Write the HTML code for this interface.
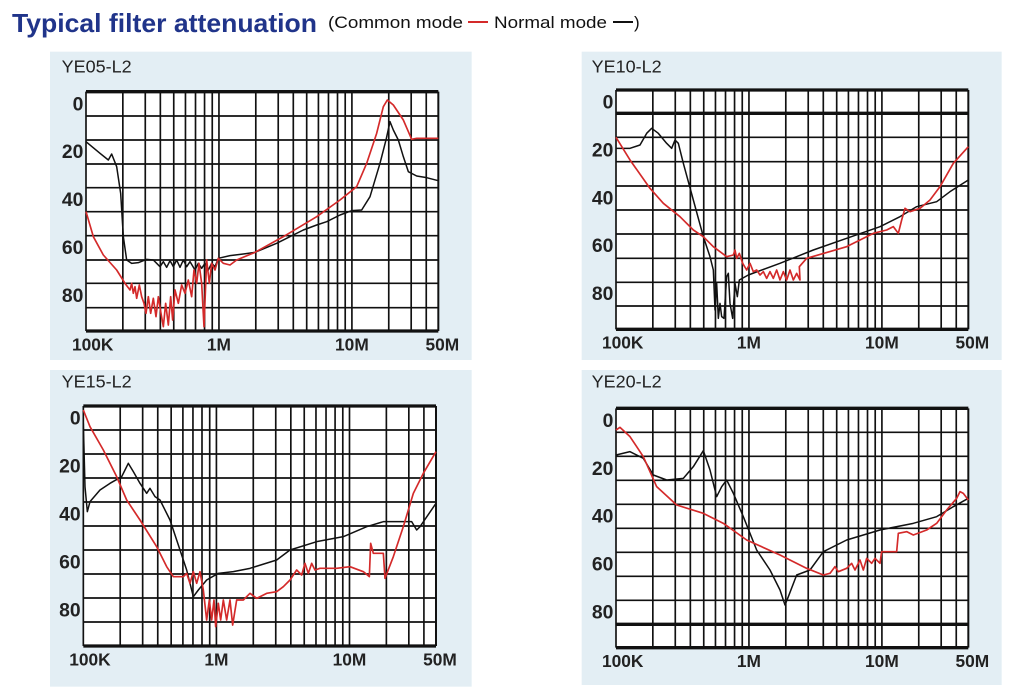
<!DOCTYPE html>
<html><head><meta charset="utf-8">
<style>
html,body{margin:0;padding:0;background:#fff;}
body{width:1017px;height:688px;position:relative;overflow:hidden;font-family:"Liberation Sans",sans-serif;}
svg{position:absolute;left:0;top:0;}
</style></head><body>
<svg id="s" width="1017" height="688" viewBox="0 0 1017 688">
<text x="12" y="32" font-family="Liberation Sans" font-weight="bold" font-size="26" fill="#20348a" textLength="305" lengthAdjust="spacingAndGlyphs">Typical filter attenuation</text>
<text x="328" y="28" font-family="Liberation Sans" font-size="17" fill="#111" textLength="135" lengthAdjust="spacingAndGlyphs">(Common mode</text>
<line x1="468" y1="22" x2="488" y2="22" stroke="#d42a2a" stroke-width="2"/>
<text x="494" y="28" font-family="Liberation Sans" font-size="17" fill="#111" textLength="113" lengthAdjust="spacingAndGlyphs">Normal mode</text>
<line x1="613" y1="22" x2="633" y2="22" stroke="#111" stroke-width="2"/>
<text x="634" y="28" font-family="Liberation Sans" font-size="17" fill="#111">)</text>
</svg>
<script>
var NS="http://www.w3.org/2000/svg",S=document.getElementById('s');
function el(p,t,a,txt){var e=document.createElementNS(NS,t);for(var k in a)e.setAttribute(k,a[k]);if(txt)e.textContent=txt;p.appendChild(e);return e;}
var panels=[
 {ox:50,oy:50,bg:[0,5,1265,930],x0:108,x1:1165,ys:[125,198,270,342,413,485,557,630,700,773,843],thick:[],lab:'YE05-L2',
  k:[[108,275],[150,310],[175,330],[185,312],[200,350],[212,430],[220,560],[230,630],[245,640],[265,638],[290,628],[310,630],[330,650],[340,635],[350,652],[360,632],[370,650],[380,630],[390,652],[400,630],[410,650],[420,635],[435,660],[445,640],[455,655],[465,640],[475,660],[485,640],[495,650],[505,625],[540,617],[580,612],[615,607],[680,580],[760,540],[800,525],[830,515],[870,495],[905,482],[935,480],[960,440],[990,340],[1008,270],[1020,215],[1030,240],[1045,270],[1060,320],[1075,365],[1100,378],[1130,383],[1165,392]],
  r:[[108,485],[130,560],[160,615],[200,660],[225,700],[240,720],[245,700],[250,730],[255,710],[260,745],[268,705],[275,740],[282,760],[288,790],[295,740],[302,790],[310,745],[318,800],[325,740],[333,790],[340,830],[347,760],[355,825],[362,740],[368,810],[375,720],[385,760],[395,705],[405,730],[415,690],[425,740],[432,660],[440,700],[447,640],[455,700],[462,830],[470,630],[478,700],[485,640],[495,660],[505,625],[520,640],[540,645],[560,630],[615,607],[700,560],[800,500],[870,450],[920,410],[950,340],[980,250],[1000,170],[1012,150],[1030,165],[1060,210],[1085,268],[1100,265],[1165,265]]},
 {ox:580,oy:50,bg:[5,5,1265,930],x0:108,x1:1165,ys:[120,190,262,335,408,480,552,625,697,768,838],thick:[190],lab:'YE10-L2',
  k:[[108,295],[150,295],[180,285],[200,250],[215,235],[235,250],[260,280],[275,295],[285,270],[295,280],[310,340],[340,450],[370,560],[390,620],[400,660],[405,780],[410,700],[415,805],[420,760],[425,800],[432,805],[440,680],[445,670],[450,760],[458,805],[465,700],[472,740],[478,690],[505,675],[600,640],[700,600],[800,565],[900,530],[960,500],[1010,470],[1070,455],[1110,425],[1165,390]],
  r:[[108,262],[150,330],[210,415],[250,460],[300,500],[340,540],[370,560],[400,590],[440,620],[460,615],[465,600],[470,625],[478,610],[488,640],[500,660],[510,640],[520,665],[530,660],[540,675],[550,665],[560,685],[570,665],[580,685],[590,660],[600,690],[610,665],[620,690],[630,660],[640,690],[650,670],[660,690],[658,650],[680,625],[800,590],[880,550],[920,540],[940,530],[955,550],[965,510],[975,475],[990,485],[1020,475],[1050,450],[1080,410],[1120,340],[1165,290]]},
 {ox:50,oy:370,bg:[0,0,1265,950],x0:100,x1:1158,ys:[108,180,252,324,396,468,540,612,684,756,828],thick:[108],lab:'YE15-L2',
  k:[[100,160],[105,350],[112,425],[120,395],[150,360],[180,340],[215,320],[225,300],[235,280],[250,305],[270,340],[290,370],[300,355],[315,380],[330,390],[360,450],[390,540],[410,600],[430,680],[445,660],[470,630],[505,610],[550,605],[600,595],[680,570],[720,540],[800,515],[880,500],[950,470],[1000,455],[1085,455],[1100,480],[1110,470],[1158,400]],
  r:[[100,120],[120,170],[160,240],[200,320],[230,390],[270,450],[320,530],[350,590],[370,620],[400,620],[410,610],[420,640],[430,605],[440,640],[450,605],[460,660],[470,750],[478,690],[485,750],[492,690],[497,770],[505,700],[512,750],[520,690],[530,750],[540,690],[548,765],[560,690],[580,690],[600,670],[620,685],[650,670],[680,665],[700,650],[720,630],[740,600],[755,615],[765,580],[775,610],[785,580],[795,600],[810,595],[860,595],[900,590],[940,605],[958,620],[962,520],[970,550],[1000,550],[1005,625],[1030,560],[1060,470],[1090,370],[1120,310],[1158,245]]},
 {ox:580,oy:370,bg:[5,0,1265,945],x0:108,x1:1165,ys:[115,187,259,331,403,475,547,619,691,763,833],thick:[115,763],lab:'YE20-L2',
  k:[[108,255],[150,245],[190,265],[220,315],[260,330],[310,325],[340,290],[370,242],[390,300],[410,380],[425,350],[440,330],[460,370],[490,440],[530,540],[570,600],[600,660],[615,705],[625,680],[650,615],[690,600],[730,545],[800,510],[900,480],[1000,460],[1070,440],[1120,410],[1165,385]],
  r:[[108,180],[120,172],[150,200],[190,260],[230,350],[290,405],[370,430],[430,460],[500,510],[600,555],[680,595],[730,615],[750,610],[765,590],[775,605],[800,595],[815,580],[825,600],[840,570],[850,600],[860,565],[875,580],[885,565],[900,580],[905,545],[950,545],[955,490],[980,485],[1000,495],[1040,480],[1070,460],[1100,420],[1130,385],[1140,365],[1150,370],[1165,390]]}
];
var offs=[0,110,177,222,262,297,327,354,377];
panels.forEach(function(p){
 var g=el(S,'g',{transform:'translate('+p.ox+','+p.oy+') scale(0.33333)'});
 el(g,'rect',{x:p.bg[0],y:p.bg[1],width:p.bg[2]-p.bg[0],height:p.bg[3]-p.bg[1],fill:'#e3eef4'});
 var yt=p.ys[0],yb=p.ys[p.ys.length-1],x0=p.x0,x1=p.x1,dw=(x1-x0)/2.65;
 el(g,'rect',{x:x0,y:yt,width:x1-x0,height:yb-yt,fill:'#fff'});
 for(var d=0;d<3;d++){offs.forEach(function(o){var x=x0+d*dw+o*dw/397;if(x<=x1+1)el(g,'line',{x1:x,y1:yt,x2:x,y2:yb,stroke:'#111','stroke-width':5});});}
 el(g,'line',{x1:x1,y1:yt,x2:x1,y2:yb,stroke:'#111','stroke-width':6});
 p.ys.forEach(function(y){var t=(y==yt||y==yb||p.thick.indexOf(y)>=0);el(g,'line',{x1:x0,y1:y,x2:x1,y2:y,stroke:'#111','stroke-width':t?10:5});});
 var pts=function(a){return a.map(function(q){return q.join(',')}).join(' ');};
 el(g,'polyline',{points:pts(p.k),fill:'none',stroke:'#111','stroke-width':4.5,'stroke-linejoin':'round'});
 el(g,'polyline',{points:pts(p.r),fill:'none',stroke:'#d42a2a','stroke-width':5,'stroke-linejoin':'round'});
 el(g,'text',{x:35,y:(p.oy==50?68:52),'font-family':'Liberation Sans','font-size':54,fill:'#222'},p.lab);
 var step=(yb-yt)/10;
 ['0','20','40','60','80'].forEach(function(s,i){el(g,'text',{x:x0-8,y:yt+step*(0.5+2*i)+20,'text-anchor':'end','font-family':'Liberation Sans','font-weight':'bold','font-size':58,fill:'#222'},s);});
 var ly=yb+58;
 el(g,'text',{x:x0+20,y:ly,'text-anchor':'middle','font-family':'Liberation Sans','font-weight':'bold','font-size':52,fill:'#222'},'100K');
 el(g,'text',{x:x0+dw,y:ly,'text-anchor':'middle','font-family':'Liberation Sans','font-weight':'bold','font-size':52,fill:'#222'},'1M');
 el(g,'text',{x:x0+2*dw,y:ly,'text-anchor':'middle','font-family':'Liberation Sans','font-weight':'bold','font-size':52,fill:'#222'},'10M');
 el(g,'text',{x:x1+12,y:ly,'text-anchor':'middle','font-family':'Liberation Sans','font-weight':'bold','font-size':52,fill:'#222'},'50M');
});
</script>
</body></html>
